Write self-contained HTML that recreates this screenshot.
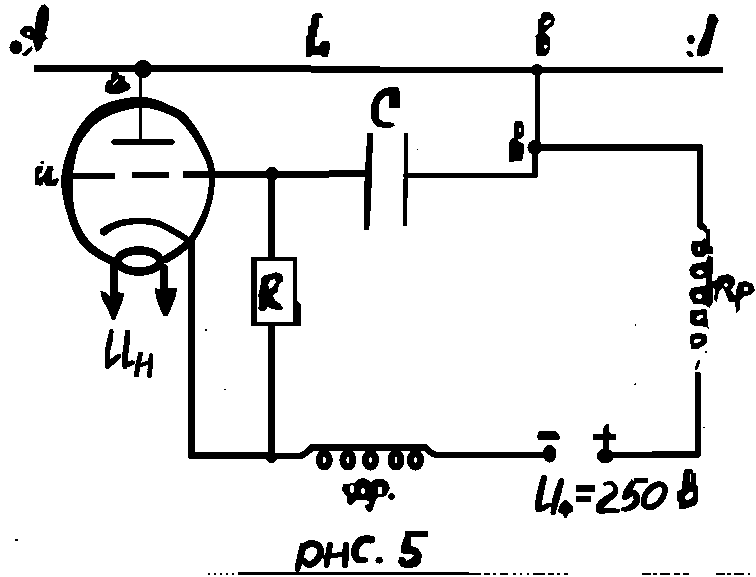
<!DOCTYPE html>
<html><head><meta charset="utf-8">
<style>
html,body{margin:0;padding:0;background:#fff;}
body{width:756px;height:577px;overflow:hidden;}
svg{display:block;}
</style></head>
<body>
<svg width="756" height="577" viewBox="0 0 756 577" shape-rendering="crispEdges">
<path d="M34.0 71.9 L44.5 71.9 L59.1 71.9 L76.4 72.0 L94.9 72.0 L113.2 72.0 L130.0 72.0 L145.1 72.0 L159.7 72.0 L174.1 72.0 L188.7 71.9 L203.9 72.0 L220.0 72.0 L237.2 72.1 L255.2 72.2 L273.7 72.3 L292.6 72.4 L311.4 72.5 L330.0 72.7 L348.4 72.8 L367.1 72.9 L385.8 73.1 L404.3 73.3 L422.4 73.4 L440.0 73.4 L457.1 73.4 L473.8 73.4 L490.2 73.4 L506.2 73.3 L521.8 73.2 L537.0 73.2 L551.4 73.1 L565.0 73.0 L578.1 73.0 L591.4 72.9 L605.2 72.8 L620.0 72.7 L637.2 72.8 L656.7 72.8 L676.7 72.8 L695.6 72.8 L711.6 72.8 L723.0 72.8 L723.0 66.8 L711.6 66.9 L695.6 66.9 L676.7 67.0 L656.7 67.1 L637.2 67.2 L620.0 67.3 L605.2 67.2 L591.4 67.2 L578.1 67.2 L565.0 67.2 L551.4 67.2 L537.0 67.2 L521.8 67.2 L506.2 67.3 L490.2 67.4 L473.8 67.4 L457.1 67.4 L440.0 67.4 L422.4 67.2 L404.3 66.9 L385.9 66.6 L367.2 66.3 L348.5 66.0 L330.0 65.7 L311.5 65.5 L292.6 65.4 L273.8 65.3 L255.2 65.2 L237.2 65.1 L220.0 65.0 L203.9 65.0 L188.7 65.0 L174.1 65.1 L159.7 65.1 L145.1 65.2 L130.0 65.2 L113.2 65.2 L94.9 65.2 L76.4 65.3 L59.1 65.3 L44.5 65.3 L34.0 65.3Z" fill="#000" fill-rule="nonzero"/>
<path d="M140.5 70 L140.5 142" fill="none" stroke="#000" stroke-width="3.8" stroke-linecap="round" stroke-linejoin="round"/>
<path d="M114 142 L172 142" fill="none" stroke="#000" stroke-width="5.5" stroke-linecap="round" stroke-linejoin="round"/>
<path d="M168.1 262.4 L169.6 261.5 L171.7 260.2 L174.3 258.7 L177.1 256.9 L179.9 255.1 L182.4 253.2 L184.7 251.3 L186.9 249.3 L189.1 247.2 L191.2 245.0 L193.3 242.7 L195.3 240.1 L197.2 237.4 L199.0 234.4 L200.7 231.4 L202.3 228.4 L203.8 225.4 L205.2 222.5 L206.4 219.7 L207.4 217.0 L208.4 214.3 L209.3 211.5 L210.1 208.7 L210.9 205.8 L211.7 202.8 L212.5 199.7 L213.2 196.5 L213.8 193.2 L214.3 189.7 L214.6 186.2 L214.8 182.6 L215.0 179.0 L215.1 175.1 L214.9 171.1 L214.3 166.9 L213.4 162.5 L211.9 157.9 L209.9 153.1 L207.7 148.1 L205.3 143.3 L202.8 138.7 L200.4 134.4 L198.0 130.4 L195.5 126.6 L192.8 122.9 L190.2 119.5 L187.6 116.4 L185.1 113.7 L182.5 111.5 L180.0 109.8 L177.6 108.6 L175.4 107.6 L173.3 106.8 L171.2 105.9 L169.0 104.8 L166.6 103.6 L164.1 102.5 L161.5 101.5 L158.9 100.5 L156.3 99.7 L153.8 98.9 L151.4 98.2 L148.8 97.6 L146.0 97.1 L143.0 96.8 L139.8 96.7 L136.4 96.8 L132.8 97.2 L129.2 97.6 L125.5 98.3 L121.9 98.9 L118.5 99.7 L115.3 100.4 L112.2 101.3 L109.1 102.2 L106.0 103.3 L102.9 104.6 L99.8 106.1 L97.0 108.0 L94.3 110.0 L91.6 112.2 L88.9 114.6 L86.3 117.4 L83.8 120.4 L81.3 123.7 L78.8 127.3 L76.3 131.2 L73.9 135.5 L71.7 140.1 L69.8 145.0 L67.8 150.1 L65.9 155.6 L64.2 161.4 L62.8 167.5 L61.7 173.6 L61.0 179.8 L61.3 186.0 L62.1 192.3 L63.1 198.5 L64.4 204.6 L66.0 210.4 L67.6 215.8 L69.1 221.0 L70.9 225.9 L72.8 230.7 L75.0 235.2 L77.4 239.4 L80.0 243.4 L83.1 247.0 L86.6 250.2 L90.1 253.0 L93.6 255.4 L96.9 257.5 L99.9 259.4 L102.9 261.1 L105.9 262.6 L108.7 263.7 L111.2 264.6 L113.2 265.2 L114.6 265.8 L117.4 258.2 L115.8 257.7 L113.8 257.0 L111.6 256.2 L109.1 255.2 L106.6 254.1 L104.1 252.6 L101.4 250.7 L98.4 248.6 L95.3 246.2 L92.3 243.7 L89.6 241.0 L87.2 238.0 L84.9 234.7 L82.6 231.1 L80.5 227.1 L78.6 222.9 L76.9 218.4 L75.4 213.6 L74.4 208.4 L73.6 202.9 L73.0 197.1 L72.7 191.3 L72.7 185.6 L73.0 180.2 L73.1 174.8 L73.6 169.3 L74.5 163.7 L75.6 158.2 L76.8 153.0 L78.2 148.2 L80.1 144.1 L82.3 140.3 L84.7 136.7 L87.2 133.4 L89.7 130.3 L92.2 127.6 L94.5 125.2 L96.8 123.3 L99.0 121.6 L101.3 120.1 L103.7 118.7 L106.2 117.5 L108.5 116.1 L110.8 115.0 L113.3 114.0 L115.9 113.1 L118.6 112.2 L121.5 111.3 L124.5 110.5 L127.8 109.7 L131.1 109.0 L134.4 108.4 L137.4 108.0 L140.2 107.7 L142.6 107.6 L144.8 107.7 L146.9 108.0 L149.1 108.3 L151.3 108.8 L153.7 109.3 L156.0 109.9 L158.3 110.6 L160.6 111.4 L162.9 112.2 L165.3 113.1 L167.6 114.1 L169.9 115.1 L171.9 115.9 L173.7 116.7 L175.4 117.5 L177.0 118.7 L178.9 120.3 L181.1 122.4 L183.6 125.1 L186.1 128.1 L188.7 131.4 L191.2 134.9 L193.6 138.6 L196.0 142.6 L198.5 146.9 L201.0 151.5 L203.2 156.1 L205.2 160.5 L206.6 164.5 L207.6 168.2 L208.3 171.8 L208.6 175.4 L208.7 178.9 L208.7 182.4 L208.6 185.8 L208.3 189.1 L207.9 192.2 L207.3 195.3 L206.7 198.3 L205.9 201.3 L205.1 204.2 L204.2 206.9 L203.3 209.5 L202.3 212.0 L201.3 214.4 L200.1 216.9 L198.8 219.5 L197.5 222.3 L196.1 225.2 L194.6 228.1 L193.0 230.9 L191.4 233.5 L189.7 235.9 L187.9 238.0 L186.0 239.9 L184.0 241.8 L181.9 243.5 L179.7 245.2 L177.6 246.8 L175.3 248.5 L172.8 250.2 L170.1 251.8 L167.6 253.3 L165.5 254.6 L163.9 255.6Z" fill="#000" fill-rule="nonzero"/>
<circle cx="166" cy="259" r="4.0" fill="#000"/>
<circle cx="116" cy="262" r="4.0" fill="#000"/>
<path d="M72 175.5 L115 175.5 M132 175.3 L169 175.3" fill="none" stroke="#000" stroke-width="6" stroke-linecap="butt" stroke-linejoin="round"/>
<path d="M183 175 L272 174.3 L368 173.8" fill="none" stroke="#000" stroke-width="7" stroke-linecap="butt" stroke-linejoin="round"/>
<path d="M106.4 235.0 L107.2 234.3 L108.2 233.4 L109.4 232.5 L110.7 231.5 L112.1 230.5 L113.5 229.7 L115.1 228.9 L116.8 228.2 L118.6 227.5 L120.5 226.8 L122.5 226.2 L124.6 225.7 L127.0 225.3 L129.5 224.9 L132.1 224.6 L134.8 224.4 L137.5 224.3 L140.0 224.2 L142.5 224.3 L145.0 224.4 L147.4 224.6 L149.8 224.9 L152.1 225.2 L154.2 225.7 L156.2 226.2 L158.0 226.8 L159.8 227.6 L161.6 228.4 L163.5 229.4 L165.5 230.4 L167.6 231.5 L169.8 232.7 L172.0 234.0 L174.2 235.3 L176.3 236.6 L178.3 237.8 L180.3 238.9 L182.3 240.0 L184.2 241.1 L185.9 242.1 L187.4 243.0 L188.5 243.6 L191.5 238.4 L190.5 237.8 L189.1 236.9 L187.4 235.8 L185.6 234.6 L183.6 233.4 L181.7 232.2 L179.7 231.0 L177.5 229.7 L175.3 228.4 L173.0 227.0 L170.7 225.8 L168.5 224.6 L166.4 223.6 L164.4 222.6 L162.4 221.7 L160.4 220.8 L158.1 220.0 L155.8 219.3 L153.3 218.8 L150.7 218.4 L148.1 218.1 L145.4 217.9 L142.7 217.8 L140.0 217.8 L137.2 217.8 L134.4 217.9 L131.5 218.2 L128.7 218.5 L125.9 218.9 L123.4 219.3 L120.9 219.8 L118.6 220.4 L116.4 221.1 L114.3 221.8 L112.4 222.6 L110.5 223.3 L108.6 224.2 L106.8 225.1 L105.1 226.0 L103.6 226.9 L102.5 227.6 L101.6 228.0Z" fill="#000" fill-rule="nonzero"/>
<circle cx="104" cy="231.5" r="4.25" fill="#000"/>
<circle cx="190" cy="241" r="3.0" fill="#000"/>
<ellipse cx="139" cy="261" rx="21" ry="10.5" fill="none" stroke="#000" stroke-width="8.5" transform="rotate(0 139 261)"/>
<path d="M114 262 L114 300 M164 268 L164 292" fill="none" stroke="#000" stroke-width="8" stroke-linecap="round" stroke-linejoin="round"/>
<path d="M100.4 291 L105 292 L110 296 L113 293 L118 292 L124 293.5 L123 300 L119 310 L115 320 L112 320 L108 310 L102 299Z" fill="#000" fill-rule="evenodd"/>
<path d="M154.5 288 L160 289 L164 286 L168 288 L177 288 L176 296 L172 306 L168 315.5 L163 315.5 L159 306 L156 297Z" fill="#000" fill-rule="evenodd"/>
<path d="M191.3 240 L191.3 455.6 L271 456" fill="none" stroke="#000" stroke-width="7" stroke-linecap="round" stroke-linejoin="round"/>
<path d="M271 174 L271 258 M271 325 L271 456" fill="none" stroke="#000" stroke-width="7" stroke-linecap="round" stroke-linejoin="round"/>
<path d="M367.4 132.6 L373.1 132.6 L372 170 L371.2 200 L369.3 229.8 L363.6 229.8 L363.6 200 L365 170Z" fill="#000" fill-rule="evenodd"/>
<path d="M404.5 132.6 L408.3 132.6 L407.6 180 L407.4 226 L402.6 226 L403.5 180Z" fill="#000" fill-rule="evenodd"/>
<path d="M406 175.5 L535 175.5 L535 148" fill="none" stroke="#000" stroke-width="5.7" stroke-linecap="round" stroke-linejoin="round"/>
<path d="M537.5 70 L537 148" fill="none" stroke="#000" stroke-width="5" stroke-linecap="round" stroke-linejoin="round"/>
<path d="M535 147.4 L700 147.4 L700 217" fill="none" stroke="#000" stroke-width="6.5" stroke-linecap="round" stroke-linejoin="round"/>
<path d="M696.5 210 L703 210 L702.7 222 L707 226 L707.5 229 L710 229 L710 246 L705 246 L706.5 240 L706 234 L703 230.5 L699 229 L696.5 226Z" fill="#000" fill-rule="evenodd"/>
<path d="M691.9 241 L701.5 241 L705 238 L709.8 246 L712.7 246.8 L712.7 253.5 L706.4 253.5 L704 257.2 L695.6 257.2 L691.9 253.5 L691 246.8ZM700.5 249.3 L700.4 250.1 L700.1 250.7 L699.6 251.1 L699.0 251.3 L698.4 251.1 L697.9 250.7 L697.6 250.1 L697.5 249.3 L697.6 248.5 L697.9 247.9 L698.4 247.5 L699.0 247.3 L699.6 247.5 L700.1 247.9 L700.4 248.5Z" fill="#000" fill-rule="evenodd"/>
<path d="M708.1 255.1 L713.1 257.6 L713.5 269.3 L711.8 276.7 L713.1 284 L706.4 284 L705.6 277.6 L700.6 279.2 L694.8 279.2 L689.8 274.2 L689.4 269.3 L692.3 264.3 L699.8 262.6 L706 261.8ZM703.7 272.3 L703.4 273.2 L702.6 273.9 L701.4 274.4 L700.0 274.6 L698.6 274.4 L697.4 273.9 L696.6 273.2 L696.3 272.3 L696.6 271.4 L697.4 270.7 L698.6 270.2 L700.0 270.0 L701.4 270.2 L702.6 270.7 L703.4 271.4Z" fill="#000" fill-rule="evenodd"/>
<path d="M691.3 288 L704.6 285.6 L708.2 282 L713 284 L713.1 302.6 L709.5 308 L705.8 305.6 L702.2 304.4 L693.7 304.4 L690 297.8 L688.8 293.5ZM702.2 296.5 L702.0 297.5 L701.3 298.3 L700.3 298.8 L699.2 299.0 L698.1 298.8 L697.1 298.3 L696.4 297.5 L696.2 296.5 L696.4 295.5 L697.1 294.7 L698.1 294.2 L699.2 294.0 L700.3 294.2 L701.3 294.7 L702.0 295.5Z" fill="#000" fill-rule="evenodd"/>
<path d="M691.3 309.9 L706.4 309.3 L708.8 329.3 L705.8 326.8 L693.7 325.6 L689.5 322 L689.5 312.9ZM703.3 315.2 L703.4 316.0 L703.0 317.0 L702.0 318.0 L700.8 318.9 L699.4 319.6 L698.1 319.8 L697.0 319.7 L696.3 319.2 L696.2 318.4 L696.6 317.4 L697.6 316.4 L698.8 315.5 L700.2 314.8 L701.5 314.6 L702.6 314.7Z" fill="#000" fill-rule="evenodd"/>
<path d="M691.3 334.1 L699.8 332.9 L706.4 334.7 L707 342.6 L704.6 345 L697.3 349.3 L691.3 349.3 L689.5 337.8ZM700.6 339.6 L700.6 340.4 L700.1 341.3 L699.2 342.1 L698.0 342.7 L696.7 343.0 L695.5 343.0 L694.5 342.6 L694.0 342.0 L694.0 341.2 L694.5 340.3 L695.4 339.5 L696.6 338.9 L697.9 338.6 L699.1 338.6 L700.1 339.0Z" fill="#000" fill-rule="evenodd"/>
<path d="M699 361 L696 369" fill="none" stroke="#000" stroke-width="3" stroke-linecap="round" stroke-linejoin="round"/>
<circle cx="706" cy="352" r="1" fill="#000"/>
<path d="M697.8 375 L697.8 454.5 L607 455" fill="none" stroke="#000" stroke-width="6.5" stroke-linecap="round" stroke-linejoin="round"/>
<path d="M606 424 L609 424 L609.3 432 L612 434 L615.7 434 L615.7 439.6 L609 440 L609 450 L603 450 L603 440 L598 440 L593 439.5 L593 434 L603 433.8 L603 429Z" fill="#000" fill-rule="evenodd"/>
<path d="M613.9 456.0 L613.2 458.8 L611.4 461.2 L608.6 462.8 L605.3 463.4 L602.0 462.8 L599.2 461.2 L597.4 458.8 L596.7 456.0 L597.4 453.2 L599.2 450.8 L602.0 449.2 L605.3 448.6 L608.6 449.2 L611.4 450.8 L613.2 453.2Z" fill="#000" fill-rule="nonzero"/>
<path d="M539 431 L555 431 L559 434 L560 438 L559 439.5 L538 439.5 L537 436Z" fill="#000" fill-rule="evenodd"/>
<path d="M556.5 453.8 L556.0 457.2 L554.5 460.1 L552.3 462.0 L549.7 462.7 L547.1 462.0 L544.9 460.1 L543.4 457.2 L542.9 453.8 L543.4 450.4 L544.9 447.5 L547.1 445.6 L549.7 444.9 L552.3 445.6 L554.5 447.5 L556.0 450.4Z" fill="#000" fill-rule="nonzero"/>
<path d="M271 456 L300 456 C305 455 308 450 314 447 L424 447 C428 448 430 455 438 455 L542 455" fill="none" stroke="#000" stroke-width="6.5" stroke-linecap="round" stroke-linejoin="round"/>
<path d="M312 447.5 L425 447.5" fill="none" stroke="#000" stroke-width="7.5" stroke-linecap="round" stroke-linejoin="round"/>
<ellipse cx="324.3" cy="460" rx="5" ry="7" fill="none" stroke="#000" stroke-width="7" transform="rotate(0 324.3 460)"/>
<ellipse cx="347.9" cy="460" rx="5" ry="7" fill="none" stroke="#000" stroke-width="7" transform="rotate(0 347.9 460)"/>
<ellipse cx="370.5" cy="460" rx="5" ry="7" fill="none" stroke="#000" stroke-width="7" transform="rotate(0 370.5 460)"/>
<ellipse cx="396" cy="460" rx="5" ry="7" fill="none" stroke="#000" stroke-width="7" transform="rotate(0 396 460)"/>
<ellipse cx="415.5" cy="460" rx="5" ry="7" fill="none" stroke="#000" stroke-width="7" transform="rotate(0 415.5 460)"/>
<path d="M251.3 256.6 L296.7 256.6 L297 300 L300.5 304 L300.5 326.4 L251.3 326.4 Z M257.2 261.2 L257.2 322.4 L292.8 322.4 L292.8 261.2 Z" fill="#000" fill-rule="evenodd"/>
<circle cx="143" cy="69" r="9" fill="#000"/>
<circle cx="537" cy="70" r="6" fill="#000"/>
<circle cx="272" cy="174" r="7" fill="#000"/>
<circle cx="271.5" cy="457" r="6" fill="#000"/>
<circle cx="535" cy="147.5" r="7.5" fill="#000"/>
<path d="M44.5 4.2 L48.7 7.8 L48.7 19.8 L46.6 31.2 L45 34.5 L47.6 38.5 L43.5 41.6 L41.4 48.9 L36.2 52 L34.1 45.7 L33 40.5 L30 39.5 L22.7 36.4 L19.6 32.5 L21 29 L25.8 25.5 L31 26 L35.1 29 L35.1 23.9 L37.2 12.5 L41.4 5.2ZM30.2 33.3 L30.1 34.0 L29.7 34.6 L29.1 35.0 L28.4 35.1 L27.7 35.0 L27.1 34.6 L26.7 34.0 L26.6 33.3 L26.7 32.6 L27.1 32.0 L27.7 31.6 L28.4 31.5 L29.1 31.6 L29.7 32.0 L30.1 32.6Z" fill="#000" fill-rule="evenodd"/>
<path d="M21.6 54 L25.8 51 L31.5 45.7 L33 48.9 L27.9 55.1 L23.7 56.7Z" fill="#000" fill-rule="evenodd"/>
<path d="M22.4 47.3 L21.9 50.0 L20.5 52.2 L18.4 53.8 L15.9 54.3 L13.4 53.8 L11.3 52.2 L9.9 50.0 L9.4 47.3 L9.9 44.6 L11.3 42.4 L13.4 40.8 L15.9 40.3 L18.4 40.8 L20.5 42.4 L21.9 44.6Z" fill="#000" fill-rule="nonzero"/>
<path d="M313 14 L318 12.5 L322 14 L323 17.5 L319 18 L318.7 26.7 L317 30 L317 37 L315 37.5 L315 46 L319 46 L322 41 L329 41 L330 45 L329.5 50 L328 56.5 L322 57 L320 55 L312 55 L310 57 L306 56.5 L306 43 L306.5 36 L308 35 L308 26 L311 25 L311.5 18Z" fill="#000" fill-rule="evenodd"/>
<path d="M543 12 L549 12 L553 14.5 L555 19.5 L553.5 25 L549 28.5 L545 32 L550 38 L550.5 45 L549 52 L546 55.5 L537 55.8 L535.5 50 L536 38 L535 36.5 L538 34 L538 19 L541 18 L541.5 14ZM550.7 20.3 L550.8 21.0 L550.4 22.0 L549.6 23.1 L548.4 24.1 L547.1 24.8 L545.8 25.3 L544.8 25.3 L544.1 24.9 L544.0 24.2 L544.4 23.2 L545.2 22.1 L546.4 21.1 L547.7 20.4 L549.0 19.9 L550.0 19.9ZM547.6 46.7 L547.4 47.5 L547.0 48.1 L546.4 48.5 L545.6 48.7 L544.8 48.5 L544.2 48.1 L543.8 47.5 L543.6 46.7 L543.8 45.9 L544.2 45.3 L544.8 44.9 L545.6 44.7 L546.4 44.9 L547.0 45.3 L547.4 45.9Z" fill="#000" fill-rule="evenodd"/>
<path d="M709.6 13.6 L714.8 14.1 L719 20.6 L716 26 L713.5 36 L710.5 48 L708.7 53.9 L702 56.7 L696.5 55.8 L698 46 L702 38 L706 28 L707.3 18.3Z" fill="#000" fill-rule="evenodd"/>
<path d="M694.8 39.4 L694.5 41.3 L693.7 42.9 L692.5 44.0 L691.0 44.4 L689.5 44.0 L688.3 42.9 L687.5 41.3 L687.2 39.4 L687.5 37.5 L688.3 35.9 L689.5 34.8 L691.0 34.4 L692.5 34.8 L693.7 35.9 L694.5 37.5Z" fill="#000" fill-rule="nonzero"/>
<path d="M693.3 56.3 L692.5 56.9 L691.3 57.1 L689.9 56.8 L688.5 56.1 L687.4 55.1 L686.6 53.9 L686.4 52.7 L686.7 51.7 L687.5 51.1 L688.7 50.9 L690.1 51.2 L691.5 51.9 L692.6 52.9 L693.4 54.1 L693.6 55.3Z" fill="#000" fill-rule="nonzero"/>
<path d="M111.7 72 L118.3 72 L118.9 74.9 L124.4 76 L125.8 82 L130.3 84.3 L130.6 88.2 L127.8 90.4 L123.9 92 L119.4 93.8 L110 93.8 L105.3 92 L105 87 L107 81 L111.1 79.6 L111.4 76ZM118.2 79.2 L118.3 79.7 L117.9 80.5 L117.1 81.6 L116.1 82.7 L115.0 83.7 L113.9 84.5 L113.1 84.9 L112.6 84.8 L112.5 84.3 L112.9 83.5 L113.7 82.4 L114.7 81.3 L115.8 80.3 L116.9 79.5 L117.7 79.1Z" fill="#000" fill-rule="evenodd"/>
<path d="M37.1 166 L42.7 166.3 L42.4 173.1 L38.8 173.7 L38.8 177.8 L42.4 176.6 L45.3 171.9 L47.7 166 L52.7 166 L53.9 169.8 L52.4 171.3 L52.4 179.6 L57.1 178.1 L59.5 179.6 L57.7 183.1 L55.9 185.5 L45.9 185.5 L43.6 181.3 L43 184.3 L40.6 185.8 L35 184.9 L35 168.4Z" fill="#000" fill-rule="evenodd"/>
<circle cx="42.4" cy="162.5" r="2" fill="#000"/>
<path d="M379 91.5 L384 88.5 L390 87 L395 86.8 L399 87.8 L400 95 L400 107.6 L389.5 107.6 L389 100 L388.5 95.6 L385 96.5 L381 100 L379 105 L378.5 112 L379.5 119 L383 121.5 L390 122 L394 123.5 L394.5 125.5 L391 127.5 L385 128 L378 127 L374 124 L371.5 119 L370.8 111 L371.5 104 L374 98 L376.5 94.5Z" fill="#000" fill-rule="evenodd"/>
<path d="M515 121 L522 121 L524 126 L524 135 L521 138.5 L517 140 L523.5 144 L524 152 L522 161 L509.5 161.8 L509 145 L510 140 L514 137.5 L514 126ZM521.0 129.8 L520.9 130.6 L520.6 131.4 L520.3 131.8 L519.8 132.0 L519.3 131.8 L519.0 131.4 L518.7 130.6 L518.6 129.8 L518.7 129.0 L519.0 128.2 L519.3 127.8 L519.8 127.6 L520.3 127.8 L520.6 128.2 L520.9 129.0Z" fill="#000" fill-rule="evenodd"/>
<path d="M260.8 278.8 L265 275 L271.6 273.8 L276.2 272.2 L282.4 274.2 L282.8 281.3 L279.1 284.6 L277.4 292.1 L272.5 295.4 L275 300.4 L279.1 302.9 L282.8 307.1 L282.4 310.4 L277.4 310 L271.6 308.7 L267.5 307.1 L265.8 310.4 L260 311.2 L258.3 308.7 L259.2 301.3 L258.3 295.4 L260 288 L260.8 283 Z M269.1 288.8 L268.3 284.6 L270.4 280.5 L275 278.4 L275.8 282.5 L272.5 287.5 Z" fill="#000" fill-rule="evenodd"/>
<path d="M109.5 330.2 L109.2 331.2 L108.8 332.5 L108.4 334.1 L108.0 335.9 L107.5 337.7 L107.1 339.4 L106.7 341.2 L106.3 343.0 L105.9 345.0 L105.4 347.2 L105.0 349.4 L104.8 351.7 L104.6 354.3 L104.6 357.0 L104.6 359.8 L104.7 362.4 L104.7 364.5 L104.8 366.1 L110.2 365.9 L110.2 364.4 L110.2 362.2 L110.1 359.7 L110.1 357.0 L110.1 354.5 L110.2 352.3 L110.5 350.3 L111.0 348.3 L111.5 346.4 L112.0 344.4 L112.5 342.5 L112.9 340.6 L113.1 338.6 L113.3 336.7 L113.4 334.9 L113.5 333.2 L113.5 331.8 L113.5 330.8Z" fill="#000" fill-rule="nonzero"/>
<circle cx="111.5" cy="330.5" r="2.0" fill="#000"/>
<circle cx="107.5" cy="366" r="2.75" fill="#000"/>
<path d="M109.4 368.0 L110.0 367.5 L110.8 366.8 L111.8 365.9 L112.9 365.0 L114.0 364.1 L115.0 363.3 L115.9 362.3 L117.0 361.3 L118.1 360.3 L119.1 359.4 L120.0 358.5 L120.6 357.9 L117.4 354.1 L116.7 354.5 L115.7 355.2 L114.6 356.1 L113.4 357.0 L112.2 357.9 L111.0 358.7 L110.0 359.7 L109.0 360.7 L107.9 361.7 L107.0 362.6 L106.2 363.4 L105.6 364.0Z" fill="#000" fill-rule="nonzero"/>
<circle cx="107.5" cy="366" r="2.75" fill="#000"/>
<circle cx="119" cy="356" r="2.5" fill="#000"/>
<path d="M125.0 331.8 L124.8 333.2 L124.6 335.2 L124.4 337.6 L124.1 340.0 L123.8 342.5 L123.5 344.7 L123.3 346.7 L123.0 348.8 L122.7 350.8 L122.4 352.8 L122.2 354.8 L122.0 356.8 L122.0 358.8 L122.1 360.7 L122.2 362.5 L122.3 364.2 L122.4 365.6 L122.5 366.5 L127.5 366.5 L127.6 365.4 L127.6 364.1 L127.7 362.5 L127.7 360.7 L127.8 358.9 L128.0 357.2 L128.2 355.5 L128.4 353.6 L128.7 351.6 L129.0 349.6 L129.2 347.5 L129.5 345.3 L129.6 343.0 L129.7 340.5 L129.8 337.9 L129.9 335.6 L130.0 333.6 L130.0 332.2Z" fill="#000" fill-rule="nonzero"/>
<circle cx="127.5" cy="332" r="2.5" fill="#000"/>
<circle cx="125" cy="366.5" r="2.5" fill="#000"/>
<path d="M126.1 368.2 L126.8 367.9 L127.8 367.3 L129.0 366.8 L130.2 366.2 L131.2 365.7 L132.0 365.3 L132.4 365.1 L132.7 364.9 L132.9 364.8 L133.1 364.7 L133.4 364.6 L133.7 364.5 L133.3 360.5 L133.1 360.4 L132.9 360.4 L132.4 360.3 L131.7 360.3 L130.9 360.5 L130.0 360.7 L129.1 361.1 L127.9 361.7 L126.7 362.3 L125.5 362.9 L124.5 363.4 L123.9 363.8Z" fill="#000" fill-rule="nonzero"/>
<circle cx="125" cy="366" r="2.5" fill="#000"/>
<circle cx="133.5" cy="362.5" r="2.0" fill="#000"/>
<path d="M138.1 353.4 L137.8 354.6 L137.4 356.3 L136.9 358.3 L136.4 360.4 L135.9 362.6 L135.5 364.5 L135.2 366.4 L134.9 368.4 L134.6 370.3 L134.4 372.1 L134.2 373.6 L134.0 374.7 L139.0 375.3 L139.1 374.3 L139.3 372.8 L139.6 371.0 L139.8 369.2 L140.1 367.3 L140.5 365.5 L140.8 363.6 L141.3 361.6 L141.8 359.4 L142.2 357.5 L142.6 355.8 L142.9 354.6Z" fill="#000" fill-rule="nonzero"/>
<circle cx="140.5" cy="354" r="2.5" fill="#000"/>
<circle cx="136.5" cy="375" r="2.5" fill="#000"/>
<path d="M148.8 355.3 L148.6 356.5 L148.5 358.1 L148.3 360.0 L148.1 362.0 L147.9 364.0 L147.7 365.9 L147.6 367.6 L147.5 369.5 L147.5 371.3 L147.4 373.0 L147.3 374.4 L147.3 375.4 L152.3 375.6 L152.3 374.6 L152.4 373.2 L152.4 371.5 L152.5 369.7 L152.6 367.9 L152.7 366.1 L152.8 364.4 L152.9 362.4 L153.0 360.3 L153.1 358.4 L153.2 356.8 L153.2 355.7Z" fill="#000" fill-rule="nonzero"/>
<circle cx="151" cy="355.5" r="2.25" fill="#000"/>
<circle cx="149.8" cy="375.5" r="2.5" fill="#000"/>
<path d="M138 366 L150 362" fill="none" stroke="#000" stroke-width="4" stroke-linecap="round" stroke-linejoin="round"/>
<path d="M718 276 L728 274 L734 277 L735.5 283 L733 287 L731 290 L735 296 L736 302 L729 302 L725 292 L723 288 L720 290 L718 296 L717 302 L714 300 L715 290 L712 285 L712 281 L717 280ZM728.0 285.0 L727.8 285.8 L727.4 286.4 L726.8 286.8 L726.0 287.0 L725.2 286.8 L724.6 286.4 L724.2 285.8 L724.0 285.0 L724.2 284.2 L724.6 283.6 L725.2 283.2 L726.0 283.0 L726.8 283.2 L727.4 283.6 L727.8 284.2Z" fill="#000" fill-rule="evenodd"/>
<path d="M739 282 L746 281 L753 284 L755 290 L751 295 L745 296 L740 300 L740 310 L736 313.5 L735 300 L736 290ZM748.0 289.0 L747.8 290.0 L747.4 290.8 L746.8 291.3 L746.0 291.5 L745.2 291.3 L744.6 290.8 L744.2 290.0 L744.0 289.0 L744.2 288.0 L744.6 287.2 L745.2 286.7 L746.0 286.5 L746.8 286.7 L747.4 287.2 L747.8 288.0Z" fill="#000" fill-rule="evenodd"/>
<path d="M343 484.5 L354 483 L357 480 L363 477.5 L368 480 L371 482 L376 479 L383 479 L388 482.5 L390 488 L388 492 L387 495 L383 497 L378 497 L376 500 L374 506 L372 511 L369 512.5 L366 510 L365 505 L369 504 L369 501 L364 500 L356 500 L353 504 L350 505 L347 503 L347 497 L344 493 L342 490ZM354.5 489.0 L354.3 490.5 L353.8 491.8 L353.0 492.7 L352.0 493.0 L351.0 492.7 L350.2 491.8 L349.7 490.5 L349.5 489.0 L349.7 487.5 L350.2 486.2 L351.0 485.3 L352.0 485.0 L353.0 485.3 L353.8 486.2 L354.3 487.5ZM365.0 491.0 L364.8 492.1 L364.4 493.1 L363.8 493.8 L363.0 494.0 L362.2 493.8 L361.6 493.1 L361.2 492.1 L361.0 491.0 L361.2 489.9 L361.6 488.9 L362.2 488.2 L363.0 488.0 L363.8 488.2 L364.4 488.9 L364.8 489.9ZM382.5 490.5 L382.3 492.0 L381.8 493.3 L381.0 494.2 L380.0 494.5 L379.0 494.2 L378.2 493.3 L377.7 492.0 L377.5 490.5 L377.7 489.0 L378.2 487.7 L379.0 486.8 L380.0 486.5 L381.0 486.8 L381.8 487.7 L382.3 489.0Z" fill="#000" fill-rule="evenodd"/>
<path d="M395.0 496.5 L394.7 497.7 L394.0 498.8 L392.8 499.5 L391.5 499.7 L390.2 499.5 L389.0 498.8 L388.3 497.7 L388.0 496.5 L388.3 495.3 L389.0 494.2 L390.2 493.5 L391.5 493.3 L392.8 493.5 L394.0 494.2 L394.7 495.3Z" fill="#000" fill-rule="nonzero"/>
<path d="M541.1 476.8 L540.7 478.1 L540.1 480.0 L539.5 482.2 L538.8 484.6 L538.2 487.0 L537.6 489.3 L537.1 491.5 L536.6 493.8 L536.2 496.2 L535.7 498.5 L535.3 500.6 L535.0 502.5 L535.0 504.2 L535.0 505.8 L535.1 507.2 L535.2 508.3 L535.4 509.2 L535.5 509.9 L540.5 510.1 L540.7 509.4 L540.9 508.5 L541.1 507.5 L541.3 506.3 L541.6 505.0 L542.0 503.5 L542.2 501.8 L542.6 499.7 L543.0 497.5 L543.5 495.2 L544.0 492.9 L544.4 490.7 L544.8 488.5 L545.3 486.1 L545.8 483.7 L546.3 481.5 L546.7 479.6 L546.9 478.2Z" fill="#000" fill-rule="nonzero"/>
<circle cx="544" cy="477.5" r="3.0" fill="#000"/>
<circle cx="538" cy="510" r="2.5" fill="#000"/>
<path d="M538.9 512.3 L539.4 512.2 L540.2 512.0 L541.1 511.8 L542.2 511.4 L543.2 511.1 L544.3 510.7 L545.3 510.1 L546.4 509.5 L547.4 508.8 L548.4 508.1 L549.2 507.6 L549.7 507.2 L547.3 502.8 L546.6 503.1 L545.7 503.5 L544.7 504.0 L543.6 504.5 L542.6 504.9 L541.7 505.3 L540.9 505.7 L540.1 506.2 L539.2 506.6 L538.3 507.0 L537.6 507.4 L537.1 507.7Z" fill="#000" fill-rule="nonzero"/>
<circle cx="538" cy="510" r="2.5" fill="#000"/>
<circle cx="548.5" cy="505" r="2.5" fill="#000"/>
<path d="M558.6 480.1 L558.2 481.2 L557.6 482.9 L556.8 484.8 L556.1 486.9 L555.3 489.0 L554.6 491.0 L554.1 492.9 L553.6 494.7 L553.0 496.6 L552.5 498.5 L552.0 500.4 L551.6 502.2 L551.3 504.1 L551.1 506.2 L550.9 508.1 L550.7 509.9 L550.6 511.4 L550.5 512.5 L555.5 513.5 L555.8 512.4 L556.3 511.0 L556.8 509.3 L557.3 507.4 L557.8 505.5 L558.4 503.8 L558.8 502.1 L559.3 500.3 L559.8 498.5 L560.3 496.7 L560.8 494.8 L561.4 493.0 L561.9 491.0 L562.4 488.9 L563.0 486.8 L563.6 484.8 L564.0 483.1 L564.4 481.9Z" fill="#000" fill-rule="nonzero"/>
<circle cx="561.5" cy="481" r="3.0" fill="#000"/>
<circle cx="553" cy="513" r="2.5" fill="#000"/>
<path d="M565 499.5 L569 502 L573 507 L573.5 511 L570 513 L568 514 L567 517.7 L564 517.5 L563 514 L559 513 L558 510 L560 505Z" fill="#000" fill-rule="evenodd"/>
<path d="M576.3 485.3 L594.8 485.5 L594.8 491.8 L576.3 491.8Z" fill="#000" fill-rule="evenodd"/>
<path d="M576.3 496 L590.6 496 L590.6 502 L576.3 502Z" fill="#000" fill-rule="evenodd"/>
<path d="M604.9 485.7 L605.7 485.5 L606.8 485.3 L607.9 485.0 L609.0 484.8 L609.9 484.8 L610.4 484.9 L610.8 485.2 L611.5 485.8 L612.2 486.5 L612.7 487.3 L613.1 488.0 L613.3 488.6 L613.3 489.2 L613.2 489.7 L613.0 490.3 L612.7 490.9 L612.2 491.5 L611.7 492.1 L610.9 492.6 L609.8 493.3 L608.3 494.1 L606.7 495.0 L605.0 495.9 L603.5 496.9 L602.2 498.0 L601.0 499.0 L599.7 500.2 L598.6 501.3 L597.5 502.6 L596.5 504.0 L596.0 505.5 L595.6 507.0 L595.5 508.7 L595.8 510.5 L596.9 512.5 L599.0 513.8 L601.1 514.1 L603.0 513.9 L605.0 513.5 L606.9 513.0 L608.6 512.7 L610.0 512.5 L611.4 512.5 L612.8 512.5 L614.3 512.7 L615.6 512.8 L616.8 512.9 L617.7 513.0 L618.3 509.0 L617.5 508.8 L616.4 508.5 L615.0 508.2 L613.4 507.9 L611.7 507.7 L610.0 507.5 L608.0 507.6 L606.0 507.8 L604.0 508.0 L602.3 508.2 L601.2 508.2 L601.0 508.2 L601.8 508.5 L602.3 509.1 L602.5 509.2 L602.7 508.9 L603.1 508.4 L603.5 508.0 L603.8 507.5 L604.4 506.8 L605.3 506.0 L606.3 505.0 L607.4 504.0 L608.5 503.1 L609.5 502.1 L610.8 501.0 L612.2 499.9 L613.7 498.7 L615.1 497.4 L616.3 495.9 L617.2 494.5 L617.8 493.0 L618.1 491.5 L618.2 490.1 L618.0 488.7 L617.7 487.4 L617.1 486.1 L616.3 484.8 L615.3 483.6 L614.2 482.6 L613.0 481.7 L611.6 481.1 L610.0 480.9 L608.5 481.0 L607.0 481.4 L605.8 481.8 L604.8 482.1 L604.1 482.3Z" fill="#000" fill-rule="nonzero"/>
<circle cx="604.5" cy="484" r="1.75" fill="#000"/>
<circle cx="618" cy="511" r="2.0" fill="#000"/>
<path d="M635.9 482.5 L637.1 482.6 L638.8 482.6 L640.9 482.7 L642.9 482.8 L644.7 482.9 L645.9 483.0 L646.1 478.0 L644.9 477.9 L643.2 477.9 L641.1 477.8 L639.1 477.7 L637.3 477.6 L636.1 477.5Z" fill="#000" fill-rule="nonzero"/>
<circle cx="636" cy="480" r="2.5" fill="#000"/>
<circle cx="646" cy="480.5" r="2.5" fill="#000"/>
<path d="M631.5 479.3 L631.0 479.9 L630.3 480.8 L629.5 481.8 L628.6 482.9 L627.8 484.1 L627.0 485.2 L626.3 486.3 L625.6 487.4 L625.0 488.5 L624.4 489.5 L623.9 490.4 L623.4 491.2 L623.2 492.1 L622.9 493.0 L622.7 493.8 L622.5 494.5 L622.4 495.2 L622.3 495.7 L627.7 498.3 L628.0 498.0 L628.5 497.5 L628.9 496.9 L629.5 496.3 L630.0 495.5 L630.6 494.8 L631.0 493.8 L631.4 492.8 L631.8 491.8 L632.2 490.7 L632.6 489.7 L633.0 488.8 L633.5 487.8 L634.2 486.6 L634.9 485.5 L635.5 484.4 L636.1 483.4 L636.5 482.7Z" fill="#000" fill-rule="nonzero"/>
<path d="M626.5 499.6 L627.6 499.1 L628.9 498.3 L630.4 497.4 L631.8 496.7 L632.7 496.4 L632.5 496.5 L632.0 496.3 L632.3 496.6 L632.7 497.2 L633.1 498.0 L633.4 498.8 L633.5 499.3 L633.5 499.5 L633.4 499.9 L633.1 500.5 L632.7 501.2 L632.1 501.9 L631.6 502.5 L631.0 503.2 L630.2 503.9 L629.1 504.7 L628.0 505.5 L627.0 506.1 L626.2 506.6 L625.7 506.9 L625.3 507.0 L624.8 507.0 L624.3 507.0 L623.7 507.0 L623.2 507.0 L622.8 511.0 L623.1 511.1 L623.6 511.3 L624.3 511.5 L625.3 511.6 L626.5 511.6 L627.8 511.4 L629.1 511.0 L630.5 510.6 L632.0 510.0 L633.5 509.3 L635.0 508.5 L636.4 507.5 L637.5 506.4 L638.4 505.1 L639.3 503.8 L640.0 502.3 L640.4 500.6 L640.5 498.7 L640.2 496.9 L639.5 495.2 L638.7 493.6 L637.5 492.0 L635.9 490.5 L633.5 489.5 L630.9 489.8 L628.9 490.7 L627.1 491.8 L625.5 492.9 L624.3 493.8 L623.5 494.4Z" fill="#000" fill-rule="nonzero"/>
<circle cx="625" cy="497" r="3.0" fill="#000"/>
<circle cx="623" cy="509" r="2.0" fill="#000"/>
<ellipse cx="654.3" cy="495.8" rx="13.5" ry="8" fill="none" stroke="#000" stroke-width="6" transform="rotate(-50 654.3 495.8)"/>
<path d="M685 469 L692 469 L693.5 473 L696 473.5 L696 485 L698 487 L698.5 500 L696 505 L690 507 L684 509.5 L679 509 L679.5 504 L677 500 L677.5 491 L682 489 L683 474ZM692.7 492.5 L693.3 493.5 L693.2 495.0 L692.5 496.6 L691.3 498.1 L689.8 499.3 L688.2 500.0 L686.7 500.1 L685.7 499.5 L685.1 498.5 L685.2 497.0 L685.9 495.4 L687.1 493.9 L688.6 492.7 L690.2 492.0 L691.7 491.9ZM691.3 478.0 L691.2 479.5 L691.1 480.8 L690.8 481.7 L690.5 482.0 L690.2 481.7 L689.9 480.8 L689.8 479.5 L689.7 478.0 L689.8 476.5 L689.9 475.2 L690.2 474.3 L690.5 474.0 L690.8 474.3 L691.1 475.2 L691.2 476.5Z" fill="#000" fill-rule="evenodd"/>
<path d="M304.6 550.1 L305.5 549.6 L306.8 548.9 L308.1 548.2 L309.5 547.6 L310.6 547.1 L311.3 547.0 L312.1 547.0 L313.0 547.1 L314.0 547.4 L314.9 547.8 L315.6 548.2 L316.0 548.5 L316.3 548.8 L316.6 549.4 L316.9 550.1 L317.1 550.9 L317.1 551.7 L317.1 552.4 L316.8 553.2 L316.4 554.3 L315.8 555.5 L315.0 556.7 L314.3 557.7 L313.5 558.5 L312.8 559.2 L311.9 559.8 L311.0 560.3 L310.1 560.7 L309.4 560.9 L309.2 561.0 L309.2 561.1 L308.9 561.0 L308.2 560.5 L307.4 559.9 L306.6 559.2 L306.0 558.8 L302.0 563.2 L302.4 563.7 L303.0 564.4 L303.9 565.4 L305.1 566.5 L306.8 567.5 L308.8 568.0 L310.8 567.8 L312.5 567.3 L314.1 566.6 L315.7 565.7 L317.1 564.7 L318.5 563.5 L319.7 562.1 L320.8 560.6 L321.8 559.0 L322.7 557.2 L323.5 555.4 L323.9 553.6 L324.1 551.7 L324.0 549.9 L323.6 548.2 L323.0 546.5 L322.1 544.9 L321.0 543.5 L319.5 542.3 L317.9 541.4 L316.2 540.8 L314.5 540.3 L312.6 540.0 L310.7 540.0 L308.6 540.4 L306.7 541.1 L304.9 542.0 L303.4 542.8 L302.2 543.5 L301.4 543.9Z" fill="#000" fill-rule="nonzero"/>
<circle cx="303" cy="547" r="3.5" fill="#000"/>
<circle cx="304" cy="561" r="3.0" fill="#000"/>
<path d="M299.6 545.2 L299.3 546.7 L298.8 548.7 L298.2 551.1 L297.7 553.6 L297.1 556.1 L296.6 558.2 L296.2 560.1 L295.8 562.1 L295.4 564.0 L295.1 565.7 L294.8 567.2 L294.6 568.3 L300.4 569.7 L300.8 568.7 L301.2 567.3 L301.7 565.6 L302.3 563.7 L302.8 561.8 L303.4 559.8 L303.9 557.7 L304.5 555.2 L305.1 552.7 L305.6 550.3 L306.1 548.2 L306.4 546.8Z" fill="#000" fill-rule="nonzero"/>
<circle cx="303" cy="546" r="3.5" fill="#000"/>
<circle cx="297.5" cy="569" r="3.0" fill="#000"/>
<path d="M327.0 544.5 L326.8 545.7 L326.5 547.4 L326.1 549.4 L325.8 551.5 L325.4 553.6 L325.0 555.5 L324.7 557.2 L324.4 559.0 L324.2 560.7 L323.9 562.3 L323.7 563.6 L323.5 564.5 L329.5 565.5 L329.6 564.5 L329.8 563.2 L330.1 561.7 L330.4 560.0 L330.7 558.2 L331.0 556.5 L331.3 554.7 L331.7 552.6 L332.0 550.5 L332.4 548.5 L332.7 546.8 L333.0 545.5Z" fill="#000" fill-rule="nonzero"/>
<circle cx="330" cy="545" r="3.0" fill="#000"/>
<circle cx="326.5" cy="565" r="3.0" fill="#000"/>
<path d="M343.0 544.4 L342.9 545.5 L342.7 547.1 L342.5 549.0 L342.4 551.0 L342.2 553.0 L342.0 554.8 L342.0 556.6 L342.0 558.6 L342.0 560.5 L342.0 562.3 L342.0 563.8 L342.0 564.8 L348.0 565.2 L348.1 564.1 L348.3 562.6 L348.5 560.8 L348.6 558.9 L348.8 557.0 L349.0 555.2 L349.0 553.3 L349.0 551.3 L349.0 549.3 L349.0 547.4 L349.0 545.8 L349.0 544.6Z" fill="#000" fill-rule="nonzero"/>
<circle cx="346" cy="544.5" r="3.0" fill="#000"/>
<circle cx="345" cy="565" r="3.0" fill="#000"/>
<path d="M325 557 L347 553.5" fill="none" stroke="#000" stroke-width="5" stroke-linecap="round" stroke-linejoin="round"/>
<path d="M371.0 535.5 L370.1 535.5 L368.7 535.4 L366.9 535.4 L364.8 535.4 L362.6 535.7 L360.5 536.3 L358.6 537.4 L357.0 538.6 L355.7 540.0 L354.7 541.4 L353.7 542.8 L353.0 544.1 L352.3 545.6 L351.7 547.1 L351.3 548.6 L351.0 550.2 L350.9 551.8 L351.0 553.4 L351.3 554.9 L351.8 556.5 L352.4 558.1 L353.3 559.7 L354.5 561.2 L356.2 562.5 L358.3 563.2 L360.4 563.3 L362.2 563.2 L363.9 562.9 L365.2 562.7 L366.0 562.5 L366.0 557.5 L365.0 557.4 L363.6 557.3 L362.2 557.2 L360.8 557.0 L359.9 556.7 L359.8 556.5 L359.8 556.4 L359.6 555.9 L359.4 555.2 L359.2 554.3 L359.0 553.4 L359.0 552.6 L358.9 551.9 L359.0 551.1 L359.1 550.3 L359.3 549.5 L359.7 548.7 L360.0 547.9 L360.5 547.0 L361.2 546.1 L361.8 545.2 L362.5 544.5 L363.1 544.0 L363.5 543.7 L364.2 543.5 L365.3 543.4 L366.8 543.4 L368.4 543.4 L369.9 543.5 L371.0 543.5Z" fill="#000" fill-rule="nonzero"/>
<circle cx="371" cy="539.5" r="4.0" fill="#000"/>
<circle cx="366" cy="560" r="2.5" fill="#000"/>
<path d="M383.0 560.1 L382.7 561.4 L381.9 562.6 L380.7 563.3 L379.2 563.6 L377.7 563.3 L376.5 562.6 L375.7 561.4 L375.4 560.1 L375.7 558.8 L376.5 557.6 L377.7 556.9 L379.2 556.6 L380.7 556.9 L381.9 557.6 L382.7 558.8Z" fill="#000" fill-rule="nonzero"/>
<path d="M405 531 L428 531 L428 537 L409 537 L405 537Z" fill="#000" fill-rule="evenodd"/>
<path d="M404 537 L411 537 L411 546 L418 548 L422 555 L421 562 L416 567 L408 568.6 L401 566.5 L398 562 L399 557.5 L403.5 556.5 L406.5 560.5 L410 559 L414 555.5 L410 553.5 L405 554 L401 553 L401.5 545Z" fill="#000" fill-rule="evenodd"/>
<path d="M238 573.6 L469 573.6" fill="none" stroke="#000" stroke-width="3.6" stroke-linecap="butt" stroke-linejoin="round"/>
<path d="M208 574 L236 574" stroke="#000" stroke-width="2" stroke-dasharray="2 4"/>
<path d="M469 573.8 L568 573.8" stroke="#000" stroke-width="2.5" stroke-dasharray="12 3 6 3 3 4 8 5 3 4 2 5 2 4"/>
<path d="M642 573.8 L689 573.8 M716 573.8 L750 573.8" stroke="#000" stroke-width="2.5" stroke-dasharray="9 2 4 3 10 4 6 3"/>
<circle cx="16.7" cy="540" r="1.5" fill="#000"/>
<circle cx="225" cy="389.5" r="0.9" fill="#000"/>
<circle cx="206" cy="330" r="0.9" fill="#000"/>
<circle cx="417.5" cy="149.4" r="0.9" fill="#000"/>
<circle cx="635.5" cy="325" r="0.9" fill="#000"/>
<circle cx="635.3" cy="384.2" r="0.9" fill="#000"/>
<circle cx="704" cy="427.5" r="0.9" fill="#000"/>
</svg>
</body></html>
